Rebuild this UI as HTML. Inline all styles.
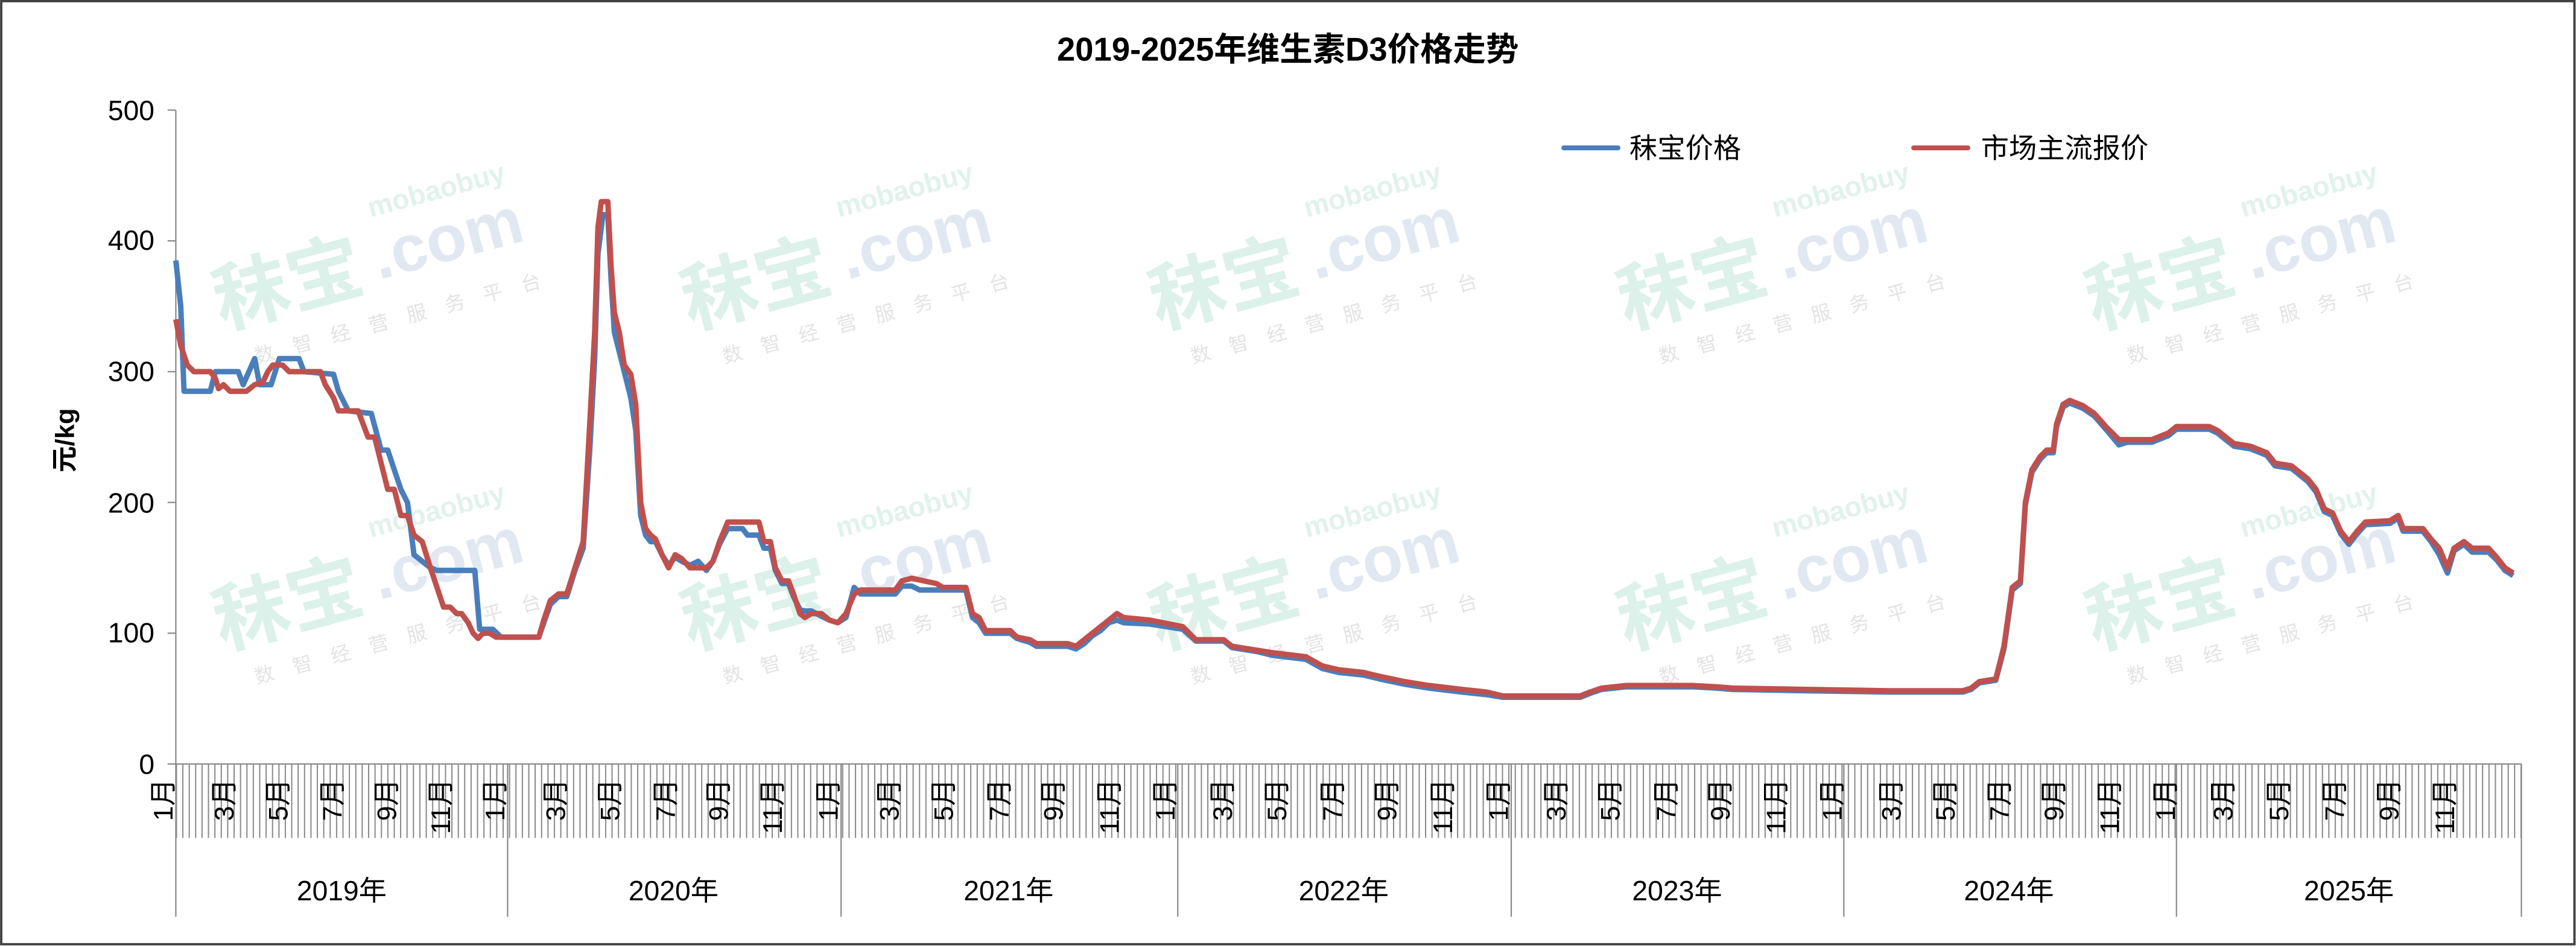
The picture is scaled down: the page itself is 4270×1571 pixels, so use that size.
<!DOCTYPE html>
<html><head><meta charset="utf-8"><style>html,body{margin:0;padding:0;background:#fff}svg{display:block}</style></head>
<body>
<svg width="4270" height="1571" viewBox="0 0 1568.2 577" xmlns="http://www.w3.org/2000/svg" font-family="'Liberation Sans','Noto Sans CJK SC',sans-serif">
<defs>
<pattern id="wk" x="107" y="0" width="3.9" height="10" patternUnits="userSpaceOnUse"><rect x="0" y="0" width="0.75" height="10" fill="#8a8a8a"/></pattern>
</defs>
<rect x="0" y="0" width="1568.2" height="577" fill="#fff"/>
<rect x="0.7" y="0.7" width="1566.6" height="574" fill="none" stroke="#404040" stroke-width="1.4"/>
<g opacity="0.55">
<g transform="translate(135,200) rotate(-15)"><text x="0" y="0" font-size="46" font-weight="bold" fill="#bfe5d8">秣宝</text><text x="100" y="-4" font-size="40" font-weight="bold" fill="#c8d6e6">.com</text><text x="105" y="-42" font-size="17" font-weight="bold" fill="#c8e8dc">mobaobuy</text><text x="15" y="26" font-size="12" fill="#ccc" letter-spacing="12">数智经营服务平台</text></g>
<g transform="translate(420,200) rotate(-15)"><text x="0" y="0" font-size="46" font-weight="bold" fill="#bfe5d8">秣宝</text><text x="100" y="-4" font-size="40" font-weight="bold" fill="#c8d6e6">.com</text><text x="105" y="-42" font-size="17" font-weight="bold" fill="#c8e8dc">mobaobuy</text><text x="15" y="26" font-size="12" fill="#ccc" letter-spacing="12">数智经营服务平台</text></g>
<g transform="translate(705,200) rotate(-15)"><text x="0" y="0" font-size="46" font-weight="bold" fill="#bfe5d8">秣宝</text><text x="100" y="-4" font-size="40" font-weight="bold" fill="#c8d6e6">.com</text><text x="105" y="-42" font-size="17" font-weight="bold" fill="#c8e8dc">mobaobuy</text><text x="15" y="26" font-size="12" fill="#ccc" letter-spacing="12">数智经营服务平台</text></g>
<g transform="translate(990,200) rotate(-15)"><text x="0" y="0" font-size="46" font-weight="bold" fill="#bfe5d8">秣宝</text><text x="100" y="-4" font-size="40" font-weight="bold" fill="#c8d6e6">.com</text><text x="105" y="-42" font-size="17" font-weight="bold" fill="#c8e8dc">mobaobuy</text><text x="15" y="26" font-size="12" fill="#ccc" letter-spacing="12">数智经营服务平台</text></g>
<g transform="translate(1275,200) rotate(-15)"><text x="0" y="0" font-size="46" font-weight="bold" fill="#bfe5d8">秣宝</text><text x="100" y="-4" font-size="40" font-weight="bold" fill="#c8d6e6">.com</text><text x="105" y="-42" font-size="17" font-weight="bold" fill="#c8e8dc">mobaobuy</text><text x="15" y="26" font-size="12" fill="#ccc" letter-spacing="12">数智经营服务平台</text></g>
<g transform="translate(135,395) rotate(-15)"><text x="0" y="0" font-size="46" font-weight="bold" fill="#bfe5d8">秣宝</text><text x="100" y="-4" font-size="40" font-weight="bold" fill="#c8d6e6">.com</text><text x="105" y="-42" font-size="17" font-weight="bold" fill="#c8e8dc">mobaobuy</text><text x="15" y="26" font-size="12" fill="#ccc" letter-spacing="12">数智经营服务平台</text></g>
<g transform="translate(420,395) rotate(-15)"><text x="0" y="0" font-size="46" font-weight="bold" fill="#bfe5d8">秣宝</text><text x="100" y="-4" font-size="40" font-weight="bold" fill="#c8d6e6">.com</text><text x="105" y="-42" font-size="17" font-weight="bold" fill="#c8e8dc">mobaobuy</text><text x="15" y="26" font-size="12" fill="#ccc" letter-spacing="12">数智经营服务平台</text></g>
<g transform="translate(705,395) rotate(-15)"><text x="0" y="0" font-size="46" font-weight="bold" fill="#bfe5d8">秣宝</text><text x="100" y="-4" font-size="40" font-weight="bold" fill="#c8d6e6">.com</text><text x="105" y="-42" font-size="17" font-weight="bold" fill="#c8e8dc">mobaobuy</text><text x="15" y="26" font-size="12" fill="#ccc" letter-spacing="12">数智经营服务平台</text></g>
<g transform="translate(990,395) rotate(-15)"><text x="0" y="0" font-size="46" font-weight="bold" fill="#bfe5d8">秣宝</text><text x="100" y="-4" font-size="40" font-weight="bold" fill="#c8d6e6">.com</text><text x="105" y="-42" font-size="17" font-weight="bold" fill="#c8e8dc">mobaobuy</text><text x="15" y="26" font-size="12" fill="#ccc" letter-spacing="12">数智经营服务平台</text></g>
<g transform="translate(1275,395) rotate(-15)"><text x="0" y="0" font-size="46" font-weight="bold" fill="#bfe5d8">秣宝</text><text x="100" y="-4" font-size="40" font-weight="bold" fill="#c8d6e6">.com</text><text x="105" y="-42" font-size="17" font-weight="bold" fill="#c8e8dc">mobaobuy</text><text x="15" y="26" font-size="12" fill="#ccc" letter-spacing="12">数智经营服务平台</text></g>
</g>
<text x="784" y="37" text-anchor="middle" font-size="20" font-weight="bold">2019-2025年维生素D3价格走势</text>
<line x1="952" y1="90" x2="985" y2="90" stroke="#4a7ebb" stroke-width="3" stroke-linecap="round"/>
<text x="992" y="96" font-size="17">秣宝价格</text>
<line x1="1165" y1="90" x2="1198" y2="90" stroke="#c0504d" stroke-width="3" stroke-linecap="round"/>
<text x="1206" y="96" font-size="17">市场主流报价</text>
<text transform="translate(45,268) rotate(-90)" text-anchor="middle" font-size="16" font-weight="bold">元/kg</text>
<g font-size="17" text-anchor="end">
<text x="94" y="471">0</text><text x="94" y="391">100</text><text x="94" y="312">200</text><text x="94" y="232">300</text><text x="94" y="152">400</text><text x="94" y="73">500</text>
</g>
<g stroke="#888" stroke-width="0.8">
<line x1="107" y1="67" x2="107" y2="558"/>
<line x1="102" y1="465" x2="107" y2="465"/><line x1="102" y1="385.4" x2="107" y2="385.4"/><line x1="102" y1="305.8" x2="107" y2="305.8"/><line x1="102" y1="226.2" x2="107" y2="226.2"/><line x1="102" y1="146.6" x2="107" y2="146.6"/><line x1="102" y1="67" x2="107" y2="67"/>
<line x1="107" y1="465" x2="1535" y2="465"/>
<line x1="309" y1="465" x2="309" y2="558"/><line x1="512" y1="465" x2="512" y2="558"/><line x1="717" y1="465" x2="717" y2="558"/><line x1="920" y1="465" x2="920" y2="558"/><line x1="1122.5" y1="465" x2="1122.5" y2="558"/><line x1="1325" y1="465" x2="1325" y2="558"/><line x1="1535" y1="465" x2="1535" y2="558"/>
</g>
<rect x="107" y="465" width="1428" height="45" fill="url(#wk)"/>
<g font-size="16.5" text-anchor="end">
<text transform="translate(105,474) rotate(-90)">1月</text><text transform="translate(142,474) rotate(-90)">3月</text><text transform="translate(175,474) rotate(-90)">5月</text><text transform="translate(208,474) rotate(-90)">7月</text><text transform="translate(241,474) rotate(-90)">9月</text><text transform="translate(274,474) rotate(-90)">11月</text>
<text transform="translate(307,474) rotate(-90)">1月</text><text transform="translate(344,474) rotate(-90)">3月</text><text transform="translate(377,474) rotate(-90)">5月</text><text transform="translate(411,474) rotate(-90)">7月</text><text transform="translate(443,474) rotate(-90)">9月</text><text transform="translate(476,474) rotate(-90)">11月</text>
<text transform="translate(510,474) rotate(-90)">1月</text><text transform="translate(547,474) rotate(-90)">3月</text><text transform="translate(580,474) rotate(-90)">5月</text><text transform="translate(614,474) rotate(-90)">7月</text><text transform="translate(647,474) rotate(-90)">9月</text><text transform="translate(681,474) rotate(-90)">11月</text>
<text transform="translate(715,474) rotate(-90)">1月</text><text transform="translate(750,474) rotate(-90)">3月</text><text transform="translate(783,474) rotate(-90)">5月</text><text transform="translate(817,474) rotate(-90)">7月</text><text transform="translate(850,474) rotate(-90)">9月</text><text transform="translate(884,474) rotate(-90)">11月</text>
<text transform="translate(918,474) rotate(-90)">1月</text><text transform="translate(953,474) rotate(-90)">3月</text><text transform="translate(986,474) rotate(-90)">5月</text><text transform="translate(1020,474) rotate(-90)">7月</text><text transform="translate(1053,474) rotate(-90)">9月</text><text transform="translate(1087,474) rotate(-90)">11月</text>
<text transform="translate(1121,474) rotate(-90)">1月</text><text transform="translate(1157,474) rotate(-90)">3月</text><text transform="translate(1190,474) rotate(-90)">5月</text><text transform="translate(1223,474) rotate(-90)">7月</text><text transform="translate(1256,474) rotate(-90)">9月</text><text transform="translate(1290,474) rotate(-90)">11月</text>
<text transform="translate(1324,474) rotate(-90)">1月</text><text transform="translate(1359,474) rotate(-90)">3月</text><text transform="translate(1393,474) rotate(-90)">5月</text><text transform="translate(1427,474) rotate(-90)">7月</text><text transform="translate(1460,474) rotate(-90)">9月</text><text transform="translate(1494,474) rotate(-90)">11月</text>
</g>
<g font-size="17" text-anchor="middle">
<text x="208" y="548">2019年</text><text x="410" y="548">2020年</text><text x="614" y="548">2021年</text><text x="818" y="548">2022年</text><text x="1021" y="548">2023年</text><text x="1223" y="548">2024年</text><text x="1430" y="548">2025年</text>
</g>
<g transform="translate(0,465) scale(1,-0.796)" fill="none" stroke-linejoin="round">
<polyline vector-effect="non-scaling-stroke" stroke="#4a7ebb" stroke-width="9" points="107,385 110,350 112,285 128,285 131,300 145,300 148,290 155,310 158,290 165,290 170,310 182,310 185,300 203,298 206,285 212,270 226,268 232,240 236,240 244,210 248,200 252,160 262,150 266,148 289,148 292,103 300,103 305,97 328,97 331,108 335,122 340,128 345,128 350,148 355,165 359,240 362,310 364,390 367,420 370,420 372,370 374,330 377,315 380,300 384,280 387,255 390,190 393,175 396,170 399,170 403,160 407,152 411,158 415,155 420,152 425,155 430,148 434,155 438,168 443,180 452,180 455,175 462,175 465,165 469,165 472,148 476,138 480,138 483,128 487,118 490,117 494,117 500,113 505,110 510,108 515,112 520,135 524,130 545,130 549,136 555,136 560,133 574,133 588,133 592,112 596,108 600,100 615,100 619,96 627,93 631,90 650,90 655,88 660,92 665,98 670,102 675,108 680,110 684,108 700,107 720,103 728,94 745,94 750,89 765,86 775,83 795,80 805,73 815,70 830,68 840,65 855,61 870,58 890,55 905,53 915,51 935,51 962,51 968,54 975,57 990,59 1030,59 1045,58 1055,57 1100,56 1150,55 1195,55 1200,57 1205,62 1215,64 1220,88 1225,133 1230,138 1233,198 1237,223 1242,233 1246,238 1250,238 1252,258 1256,273 1260,276 1268,272 1275,266 1282,256 1290,244 1295,246 1310,246 1320,251 1325,256 1345,256 1350,253 1355,248 1360,243 1370,241 1380,236 1385,228 1395,226 1405,216 1410,208 1415,193 1420,190 1425,176 1430,168 1435,176 1440,183 1455,184 1460,188 1463,178 1475,178 1480,170 1485,160 1490,146 1494,163 1500,168 1505,162 1515,162 1520,156 1525,148 1530,144"/>
<polyline vector-effect="non-scaling-stroke" stroke="#c0504d" stroke-width="9" points="107,340 110,320 114,305 118,300 128,300 131,295 133,287 136,290 140,285 150,285 155,290 160,292 163,300 166,305 172,305 176,300 195,300 198,290 203,280 206,270 218,270 221,260 224,250 228,250 232,230 236,210 240,210 244,190 248,190 252,175 257,170 262,150 266,135 270,120 274,120 278,115 281,115 285,108 288,100 291,96 294,100 298,100 302,97 328,97 331,110 335,125 340,130 345,130 350,150 355,170 359,260 362,330 364,410 366,430 370,430 372,380 374,345 377,330 380,305 384,298 387,275 390,200 393,180 396,175 399,172 403,160 407,150 411,160 415,157 420,150 430,150 434,155 438,170 443,185 462,185 465,170 469,170 472,150 476,140 480,140 483,130 487,115 490,112 494,115 500,115 505,110 510,108 515,115 520,130 524,133 545,133 549,140 555,142 570,138 574,135 588,135 592,115 596,112 600,102 615,102 619,97 627,95 631,92 650,92 655,90 660,95 665,100 670,105 675,110 680,115 684,112 700,110 720,105 728,95 745,95 750,90 765,87 775,85 795,82 805,75 815,72 830,70 840,67 855,63 870,60 890,57 905,55 915,52 935,52 962,52 968,55 975,58 990,60 1030,60 1045,59 1055,58 1100,57 1150,56 1195,56 1200,58 1205,63 1215,65 1220,90 1225,135 1230,140 1233,200 1237,225 1242,235 1246,240 1250,240 1252,260 1256,275 1260,278 1268,274 1275,268 1282,258 1290,248 1295,248 1310,248 1320,253 1325,258 1345,258 1350,255 1355,250 1360,245 1370,243 1380,238 1385,230 1395,228 1405,218 1410,210 1415,195 1420,192 1425,178 1430,170 1435,178 1440,185 1455,186 1460,190 1463,180 1475,180 1480,172 1485,165 1490,150 1494,165 1500,170 1505,165 1515,165 1520,158 1525,150 1530,146"/>
</g>
</svg>
</body></html>
